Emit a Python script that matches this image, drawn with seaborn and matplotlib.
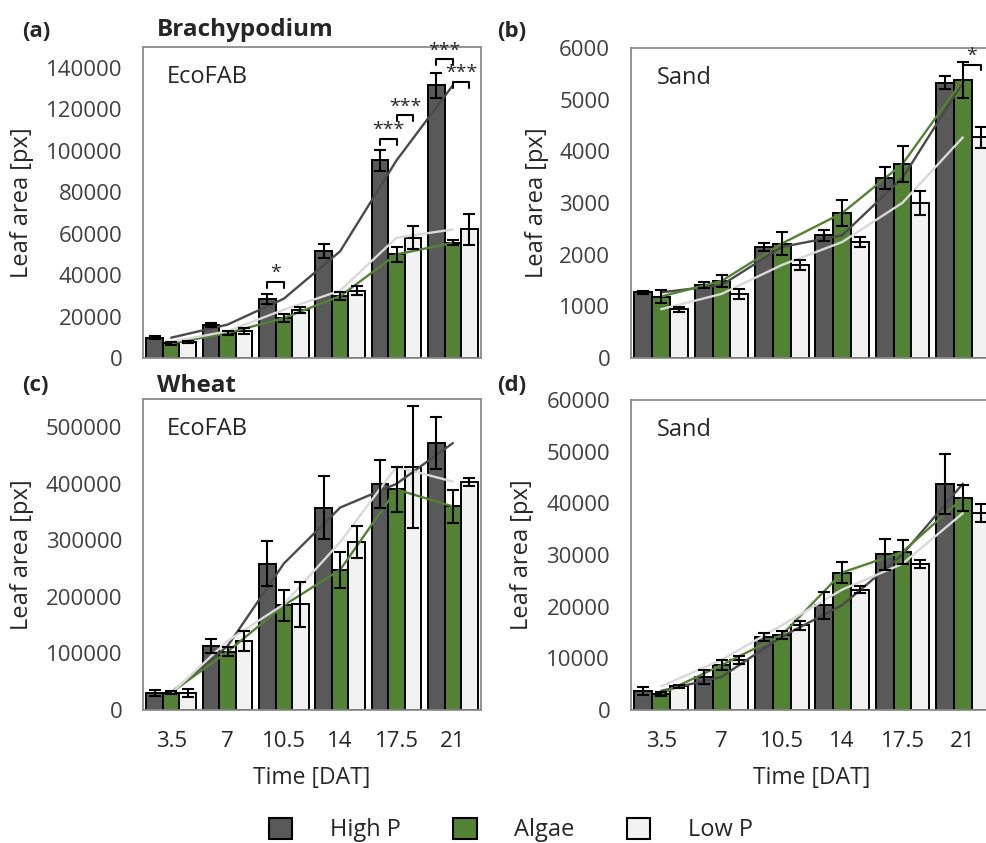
import matplotlib
matplotlib.use("Agg")
import matplotlib.pyplot as plt
from matplotlib.patches import Patch
import numpy as np
import pandas as pd
import seaborn as sns

# time points (days after transfer) and treatments
days = ["3.5", "7", "10.5", "14", "17.5", "21"]
treatments = ["High P", "Algae", "Low P"]

# (a) Brachypodium, EcoFAB
brachy_eco_high = [9800, 16100, 28600, 51500, 95300, 131500]
brachy_eco_high_sd = [800, 1000, 2500, 3500, 5000, 6000]
brachy_eco_algae = [7000, 12000, 19300, 29800, 50000, 55500]
brachy_eco_algae_sd = [500, 800, 2000, 2000, 3500, 1200]
brachy_eco_low = [7800, 12900, 23300, 32500, 58000, 62000]
brachy_eco_low_sd = [500, 1500, 1500, 2000, 5500, 7500]

# (b) Brachypodium, sand
brachy_sand_high = [1270, 1410, 2150, 2375, 3485, 5330]
brachy_sand_high_sd = [30, 60, 80, 110, 220, 130]
brachy_sand_algae = [1190, 1490, 2215, 2805, 3755, 5380]
brachy_sand_algae_sd = [120, 120, 230, 250, 350, 340]
brachy_sand_low = [945, 1240, 1800, 2245, 3005, 4270]
brachy_sand_low_sd = [50, 100, 100, 100, 230, 210]

# (c) Wheat, EcoFAB
wheat_eco_high = [30600, 113000, 259000, 358000, 400000, 472000]
wheat_eco_high_sd = [5000, 12000, 40000, 56000, 43000, 46000]
wheat_eco_algae = [30600, 103000, 185000, 248000, 390000, 360000]
wheat_eco_algae_sd = [3000, 8000, 27000, 32000, 40000, 29000]
wheat_eco_low = [29400, 122000, 187000, 297000, 430000, 404000]
wheat_eco_low_sd = [7000, 18000, 40000, 28000, 108000, 7000]

# (d) Wheat, sand
wheat_sand_high = [3700, 6400, 14200, 20300, 30100, 43800]
wheat_sand_high_sd = [800, 1300, 800, 2600, 3000, 5800]
wheat_sand_algae = [3100, 8700, 14500, 26600, 30600, 41000]
wheat_sand_algae_sd = [300, 1000, 800, 2000, 2300, 2500]
wheat_sand_low = [4600, 9700, 16400, 23300, 28300, 38100]
wheat_sand_low_sd = [300, 800, 900, 700, 800, 1800]

# significance: (day index, treatment i, treatment j, label, bracket height)
sig_a = [(2, 0, 1, "*", 36500), (4, 0, 1, "***", 105500), (4, 1, 2, "***", 117000),
         (5, 0, 1, "***", 144000), (5, 1, 2, "***", 133000)]
sig_b = [(5, 1, 2, "*", 5680)]

bar_colors = {"High P": "#595959", "Algae": "#548235", "Low P": "#f2f2f2"}
line_colors = {"High P": "#4a4a4a", "Algae": "#548235", "Low P": "#d9d9d9"}

sns.set_style("white")
plt.rcParams["font.family"] = ["Open Sans", "DejaVu Sans"]
plt.rcParams["text.color"] = "#262626"


def drawPanel(ax, means, errs, ylim, ytop, ystep, inset, sig, xlabels):
    """one bar + trend line panel"""
    df = pd.DataFrame({
        "day": np.tile(days, len(treatments)),
        "treatment": np.repeat(treatments, len(days)),
        "area": np.concatenate(means),
    })
    sns.barplot(data=df, x="day", y="area", hue="treatment", order=days,
                hue_order=treatments, palette=bar_colors, saturation=1,
                width=0.885, edgecolor="black", linewidth=1.4,
                errorbar=None, legend=False, ax=ax, zorder=2)

    centers = []
    for cont, m, e in zip(ax.containers, means, errs):
        xs = [b.get_x() + b.get_width() / 2 for b in cont]
        centers.append(xs)
        ax.errorbar(xs, m, yerr=e, fmt="none", ecolor="black", elinewidth=1.5,
                    capsize=4, capthick=1.5, zorder=5)

    # trend lines through the group centres
    for t, m in zip(treatments, means):
        sns.lineplot(x=np.arange(len(days)), y=m, color=line_colors[t],
                     linewidth=1.7, ax=ax, zorder=4, legend=False)

    tick = ylim * 0.017
    for g, i, j, lab, h in sig:
        x1, x2 = centers[i][g], centers[j][g]
        ax.plot([x1, x1, x2, x2], [h - tick, h, h, h - tick], color="black",
                lw=1.5, zorder=6, clip_on=False)
        ax.text((x1 + x2) / 2, h, lab, ha="center", va="bottom", fontsize=14)

    ax.set_xlim(-0.5, len(days) - 0.5)
    ax.set_ylim(0, ylim)
    ax.set_yticks(np.arange(0, ytop + 1, ystep))
    ax.set_yticklabels([f"{int(v)}" for v in np.arange(0, ytop + 1, ystep)])
    ax.tick_params(axis="y", length=0, pad=15, labelsize=16, labelcolor="#404040")
    ax.tick_params(axis="x", length=0, pad=15, labelsize=16, labelcolor="#262626")
    if xlabels:
        ax.set_xticks(range(len(days)))
        ax.set_xticklabels(days)
        ax.set_xlabel("Time [DAT]", fontsize=16.5, labelpad=10, color="#262626")
    else:
        ax.set_xticklabels([])
        ax.set_xlabel("")
    ax.set_ylabel("Leaf area [px]", fontsize=17, color="#262626")
    for s in ax.spines.values():
        s.set_color("#8c8c8c")
        s.set_linewidth(1.3)
    ax.text(0.07, 0.885, inset, transform=ax.transAxes, fontsize=17,
            va="baseline", ha="left")


W, H = 986, 843
fig = plt.figure(figsize=(W / 100, H / 100), dpi=100)


def axAt(left, top, right, bottom):
    return fig.add_axes([left / W, 1 - bottom / H, (right - left) / W, (bottom - top) / H])


ax_a = axAt(143, 47, 481, 358)
ax_b = axAt(631, 48, 993, 358)
ax_c = axAt(143, 399, 481, 710)
ax_d = axAt(631, 400, 993, 710)

drawPanel(ax_a, [brachy_eco_high, brachy_eco_algae, brachy_eco_low],
          [brachy_eco_high_sd, brachy_eco_algae_sd, brachy_eco_low_sd],
          150000, 140000, 20000, "EcoFAB", sig_a, False)
drawPanel(ax_b, [brachy_sand_high, brachy_sand_algae, brachy_sand_low],
          [brachy_sand_high_sd, brachy_sand_algae_sd, brachy_sand_low_sd],
          6000, 6000, 1000, "Sand", sig_b, False)
drawPanel(ax_c, [wheat_eco_high, wheat_eco_algae, wheat_eco_low],
          [wheat_eco_high_sd, wheat_eco_algae_sd, wheat_eco_low_sd],
          550000, 500000, 100000, "EcoFAB", [], True)
drawPanel(ax_d, [wheat_sand_high, wheat_sand_algae, wheat_sand_low],
          [wheat_sand_high_sd, wheat_sand_algae_sd, wheat_sand_low_sd],
          60000, 60000, 10000, "Sand", [], True)

# y label positions (right edge of rotated label)
ax_a.yaxis.set_label_coords((34 - 143) / 338, 0.5)
ax_c.yaxis.set_label_coords((34 - 143) / 338, 0.5)
ax_b.yaxis.set_label_coords((549 - 631) / 362, 0.5)
ax_d.yaxis.set_label_coords((534 - 631) / 362, 0.5)

# panel letters and species titles
fig.text(22 / W, 1 - 37 / H, "(a)", fontsize=16, fontweight="bold", va="baseline")
fig.text(157 / W, 1 - 36 / H, "Brachypodium", fontsize=17.5, fontweight="bold", va="baseline")
fig.text(497 / W, 1 - 37 / H, "(b)", fontsize=16, fontweight="bold", va="baseline")
fig.text(22 / W, 1 - 391 / H, "(c)", fontsize=16, fontweight="bold", va="baseline")
fig.text(157 / W, 1 - 392 / H, "Wheat", fontsize=17.5, fontweight="bold", va="baseline")
fig.text(497 / W, 1 - 391 / H, "(d)", fontsize=16, fontweight="bold", va="baseline")

handles = [Patch(facecolor=bar_colors[t], edgecolor="black", linewidth=1.5, label=t)
           for t in treatments]
fig.legend(handles=handles, loc="center", bbox_to_anchor=(511 / W, 1 - 830 / H),
           ncol=3, frameon=False, fontsize=17, handlelength=1.0, handleheight=1.0,
           handletextpad=1.6, columnspacing=2.2)

fig.savefig("out.png", dpi=100)
